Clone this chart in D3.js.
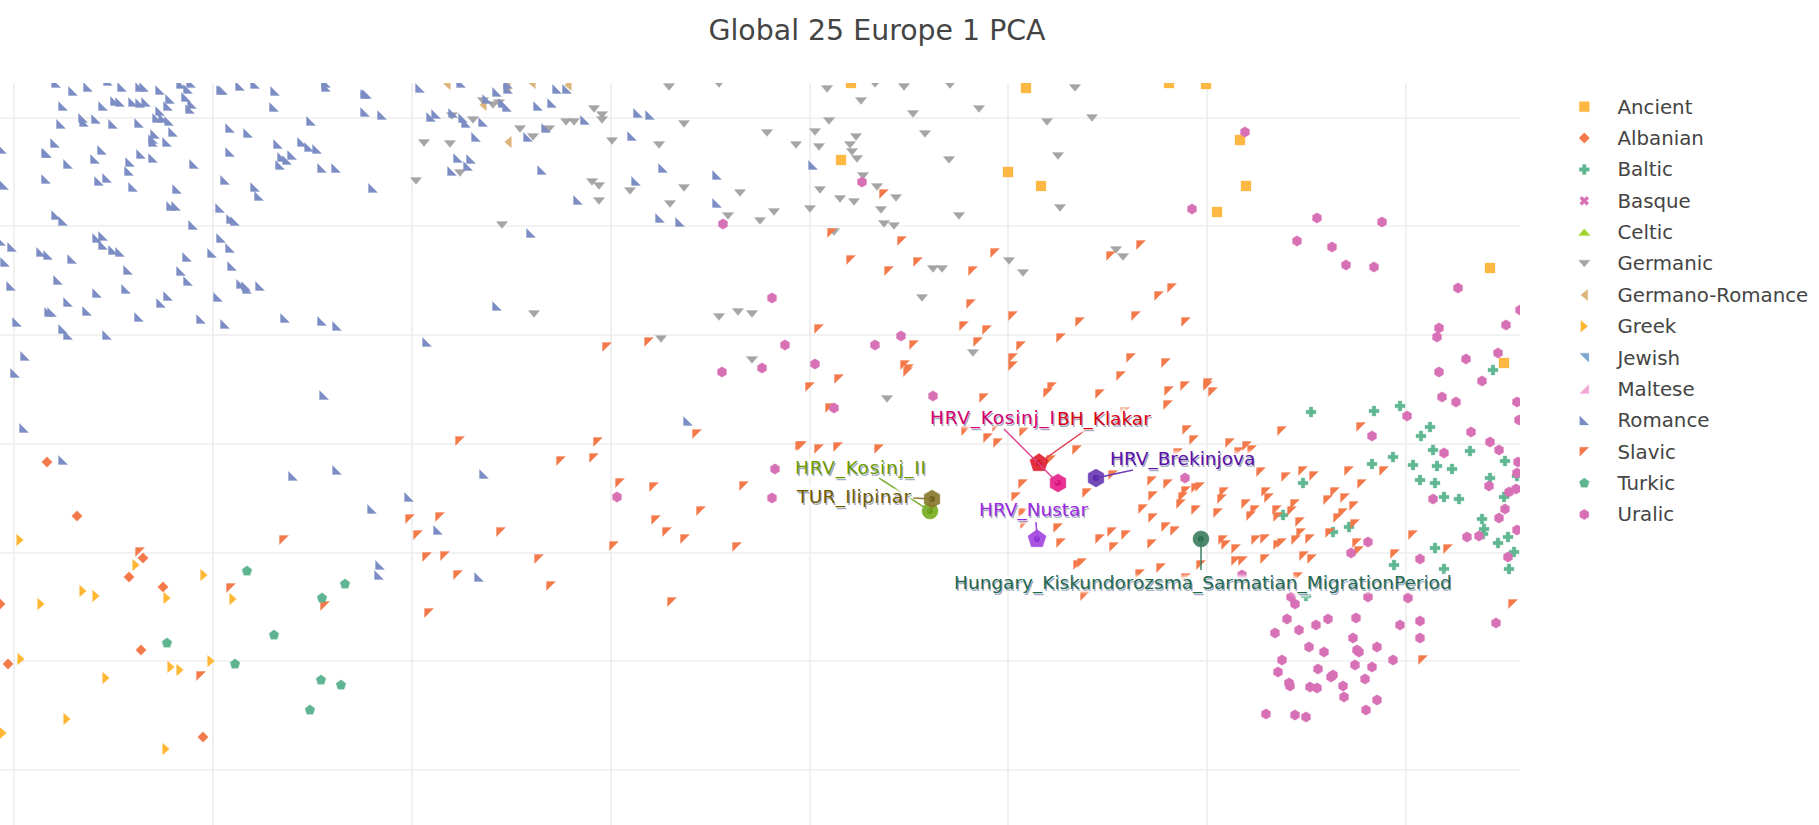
<!DOCTYPE html>
<html>
<head>
<meta charset="utf-8">
<title>Global 25 Europe 1 PCA</title>
<script src="https://cdn.jsdelivr.net/npm/d3@7"></script>
<style>
html,body{margin:0;padding:0;background:#fff;overflow:hidden}
svg{display:block}
text{font-family:"DejaVu Sans",sans-serif}
</style>
</head>
<body>
<svg id="chart" width="1819" height="825"></svg>
<script>
const titleText = "Global 25 Europe 1 PCA";
const xTicks = [0,199,398,597,796,994,1193,1392];
const yTicks = [0,109,217,326,435,544,652];

const ancient = [[837,687],[1012,682],[1155,687],[827,610],[994,598],[1027,584],[1192,686],[1226,630],[1232,584],[1203,558],[1476,502],[1490,407]];
const albanian = [[33,308],[63,254],[129,212],[115,193],[149,183],[-14,166],[127,120],[-6,106],[189,33]];
const baltic = [[1479,400],[1297,358],[1360,359],[1386,364],[1416,343],[1407,334],[1419,320],[1456,319],[1491,309],[1379,313],[1358,306],[1399,305],[1423,304],[1438,301],[1406,290],[1421,287],[1476,292],[1503,294],[1289,287],[1430,273],[1445,271],[1490,273],[1468,251],[1470,241],[1469,236],[1319,238],[1335,243],[1269,255],[1494,233],[1484,227],[1421,222],[1500,218],[1380,205],[1430,201],[1495,201],[1292,174]];
const basque = [];
const celtic = [];
const germanic = [[655,683],[705,686],[469,669],[479,665],[485,667],[438,654],[459,650],[580,661],[588,655],[588,650],[552,648],[560,648],[670,646],[506,641],[535,641],[519,633],[410,627],[436,626],[598,629],[645,625],[753,637],[782,625],[402,589],[446,597],[578,588],[585,584],[616,579],[670,582],[726,577],[585,569],[656,566],[714,554],[746,549],[760,558],[488,545],[520,456],[705,453],[724,458],[738,456],[647,431],[738,410],[813,681],[861,686],[890,683],[936,685],[847,669],[899,656],[965,661],[815,649],[801,638],[842,633],[911,636],[836,625],[805,623],[838,618],[843,611],[935,610],[849,594],[863,583],[806,580],[882,572],[826,571],[840,568],[796,561],[867,560],[945,554],[870,546],[880,544],[820,538],[1061,682],[1033,648],[1078,652],[1044,614],[1046,562],[1102,520],[1109,513],[995,509],[1009,497],[919,501],[928,501],[908,472],[959,417],[873,371]];
const germanoRomance = [[494,628],[469,665],[433,686],[554,685],[493,683],[518,687]];
const greek = [[6,230],[122,205],[190,195],[69,179],[82,174],[27,166],[153,172],[219,171],[7,111],[197,109],[157,103],[166,100],[92,92],[53,51],[-11,37],[152,21]];
const jewish = [];
const maltese = [];
const romance = [[42,687],[59,679],[74,683],[94,689],[108,683],[126,683],[130,683],[146,680],[167,686],[177,687],[174,681],[156,671],[172,673],[49,664],[89,664],[101,669],[106,668],[119,668],[126,667],[132,668],[154,664],[178,666],[176,661],[146,659],[143,652],[149,652],[155,649],[69,652],[70,648],[82,651],[47,646],[99,646],[125,647],[159,638],[141,636],[139,631],[139,628],[153,628],[41,627],[-12,621],[32,617],[33,617],[88,620],[127,616],[81,611],[116,608],[139,612],[54,606],[115,599],[180,606],[93,592],[85,589],[32,591],[-10,585],[119,583],[163,581],[157,564],[162,564],[42,555],[49,549],[179,545],[207,680],[209,680],[226,684],[241,686],[261,679],[312,687],[312,683],[351,676],[353,676],[260,663],[351,658],[368,655],[297,649],[216,642],[234,637],[264,626],[288,628],[295,623],[303,621],[216,618],[268,613],[273,610],[278,615],[266,605],[308,602],[322,602],[211,590],[241,583],[245,574],[359,582],[206,562],[217,551],[221,549],[83,532],[89,534],[89,525],[99,520],[106,518],[207,532],[216,522],[198,517],[-2,523],[-13,529],[27,518],[34,515],[58,511],[-9,508],[173,513],[114,500],[167,499],[218,504],[44,490],[-3,484],[174,489],[227,486],[232,484],[233,481],[246,484],[83,477],[112,481],[154,474],[204,473],[54,468],[147,467],[35,458],[38,458],[73,459],[125,453],[187,451],[211,446],[271,452],[308,449],[323,444],[3,448],[49,441],[54,435],[93,435],[11,414],[1,397],[10,342],[310,375],[49,310],[279,294],[323,300],[358,261],[366,205],[365,195],[406,682],[447,687],[483,678],[494,681],[494,686],[543,681],[553,681],[473,671],[489,667],[493,663],[524,664],[538,667],[417,653],[422,656],[439,657],[449,652],[452,647],[469,648],[462,633],[532,642],[514,633],[571,650],[624,657],[636,655],[618,634],[444,612],[457,611],[454,604],[438,599],[528,600],[649,602],[622,589],[703,595],[564,570],[646,552],[666,548],[703,567],[517,537],[483,464],[413,428],[799,605],[470,296],[395,273],[424,240],[465,193],[674,349]];
const slavic = [[593,423],[635,428],[870,576],[818,537],[888,529],[981,517],[837,510],[904,508],[875,499],[959,499],[1097,514],[1127,525],[1158,482],[1145,474],[957,466],[999,454],[1066,448],[1122,454],[1172,448],[950,444],[973,440],[805,441],[1047,432],[964,428],[900,425],[1007,424],[999,412],[1117,412],[1152,407],[891,405],[999,404],[895,401],[270,230],[126,218],[217,182],[311,164],[187,94],[446,329],[584,328],[683,336],[786,324],[547,309],[580,312],[606,287],[640,283],[730,284],[396,251],[426,253],[404,235],[487,238],[642,250],[687,259],[653,238],[671,231],[600,224],[723,223],[413,213],[431,214],[525,211],[444,195],[537,184],[415,157],[658,168],[796,383],[825,391],[894,398],[816,362],[970,372],[974,332],[984,327],[1010,338],[788,324],[805,321],[824,323],[865,321],[1063,320],[1037,310],[1009,286],[1002,273],[1009,257],[1011,246],[1044,242],[1047,227],[1064,205],[1034,377],[1038,383],[952,339],[983,343],[1107,394],[1086,376],[1155,379],[1171,384],[1194,387],[1194,384],[1199,378],[1154,365],[1111,358],[1173,340],[1180,330],[1216,327],[1233,324],[1238,320],[1225,318],[1164,317],[1099,295],[1138,289],[1154,286],[1139,274],[1073,277],[1172,279],[1182,282],[1186,283],[1169,273],[1167,266],[1129,261],[1139,252],[1182,260],[1204,257],[1210,278],[1208,271],[1247,298],[1252,278],[1255,272],[1232,266],[1241,260],[1237,254],[1263,260],[1264,253],[1152,243],[1161,239],[1112,235],[1098,238],[1086,231],[1100,223],[1138,226],[1209,230],[1212,225],[1222,221],[1242,230],[1251,231],[1264,225],[1251,211],[1222,209],[1229,209],[1187,205],[1147,202],[1068,207],[1071,174],[1126,196],[1172,192],[1268,339],[1347,343],[1289,299],[1272,293],[1300,294],[1335,299],[1370,299],[1348,286],[1321,278],[1314,270],[1331,272],[1281,266],[1278,259],[1340,264],[1329,257],[1324,252],[1286,248],[1341,246],[1287,237],[1282,230],[1296,231],[1316,237],[1343,227],[1345,219],[1290,214],[1298,211],[1381,216],[1399,235],[1434,221],[1268,227],[1499,166],[1284,193],[1409,110]];
const turkic = [[233,199],[331,186],[308,172],[260,135],[153,127],[221,106],[307,90],[327,85],[296,60]];
const uralic = [[709,546],[758,472],[771,425],[748,402],[708,398],[848,588],[1178,561],[887,434],[861,425],[801,406],[1231,638],[1303,552],[1368,548],[1283,529],[1318,523],[1332,505],[1360,503],[1444,482],[1506,460],[1492,445],[1425,442],[1423,433],[1452,411],[1484,417],[1425,398],[603,273],[761,301],[758,272],[820,362],[919,374],[1171,292],[1228,195],[1468,389],[1428,373],[1442,368],[1503,368],[1505,350],[1393,354],[1457,338],[1358,334],[1476,328],[1485,320],[1430,317],[1504,308],[1503,297],[1475,284],[1495,278],[1502,281],[1419,271],[1491,261],[1485,252],[1503,240],[1465,234],[1453,233],[1354,228],[1337,217],[1406,211],[1494,213],[1394,172],[1354,173],[1277,173],[1281,166],[1273,151],[1314,151],[1342,152],[1302,145],[1285,140],[1261,137],[1386,145],[1339,132],[1295,123],[1310,118],[1343,120],[1345,118],[1363,123],[1268,110],[1379,110],[1341,105],[1358,103],[1304,101],[1264,98],[1319,95],[1317,93],[1351,91],[1275,87],[1276,84],[1329,84],[1296,83],[1303,82],[1330,73],[1363,70],[1352,60],[1252,56],[1281,55],[1292,53],[1406,149],[1406,132],[1482,147]];

const seriesNames = ["Ancient","Albanian","Baltic","Basque","Celtic","Germanic","Germano-Romance","Greek","Jewish","Maltese","Romance","Slavic","Turkic","Uralic"];
const seriesValues = [ancient,albanian,baltic,basque,celtic,germanic,germanoRomance,greek,jewish,maltese,romance,slavic,turkic,uralic];

const highlightNames = ["HRV_Kosinj_II","TUR_Ilipinar","HRV_Nustar","HRV_Brekinjova","Hungary_Kiskundorozsma_Sarmatian_MigrationPeriod","BH_Klakar","HRV_Kosinj_I"];
const highlightValues = [[916,259],[918,271],[1023,231],[1082,292],[1187,231],[1025,307],[1044,287]];

/* ---- presentation ---- */
const seriesColors = ["#fdb843","#f4794a","#5fb792","#d870b5","#a1d32f","#a5a5a5","#dcb57c","#ffb733","#7ba4cf","#f2a7d6","#7b8dc4","#f4794a","#5fb592","#d870b5"];
const seriesShapes = ["square","diamond","plus","x","up","down","left","right","ne","se","sw","nw","pentagon","hexagon"];
const highlightStyle = [
 {shape:"circle",r:8,fill:"#7aae22",dot:"#6a9f18",text:"#6b9a00",line:"#7fb03c",dx:-135,dy:-43,lx:-51,ly:-33,w:131},
 {shape:"hexagon",r:9,fill:"#8a7a30",dot:"#75641c",text:"#6e5a00",line:"#8a7a30",dx:-135,dy:-2,lx:-19,ly:-1,w:114},
 {shape:"pentagon",r:9.5,fill:"#a347e0",dot:"#9333d6",text:"#9a2be2",line:"#a347e0",dx:-58,dy:-29,lx:-1,ly:-17},
 {shape:"hexagon",r:9,fill:"#6a3ab5",dot:"#5a28a8",text:"#5a10a8",line:"#6a3ab5",dx:14,dy:-19,lx:37,ly:-8},
 {shape:"circle",r:8,fill:"#3f7f62",dot:"#2f7253",text:"#1f6a4f",line:"#3f7f62",dx:-247,dy:44,lx:0,ly:31},
 {shape:"pentagon",r:9.5,fill:"#e0202e",dot:"#d01525",text:"#d80012",line:"#e0354a",dx:18,dy:-44,lx:48,ly:-34},
 {shape:"hexagon",r:9,fill:"#e6208a",dot:"#d8127e",text:"#d6006e",line:"#dd3f8f",dx:-128,dy:-65,lx:-54,ly:-54,w:125}
];

function polyType(pts){ return {draw(ctx,size){ const r=Math.sqrt(size); pts.forEach((p,i)=>{ if(i) ctx.lineTo(p[0]*r,p[1]*r); else ctx.moveTo(p[0]*r,p[1]*r);}); ctx.closePath(); }}; }
function ngon(n,rot){ return d3.range(n).map(i=>{const a=rot+i*2*Math.PI/n; return [Math.cos(a),Math.sin(a)];}); }
const t=0.36;
const shapeTypes = {
 square: polyType([[-1,-1],[1,-1],[1,1],[-1,1]]),
 diamond: polyType([[0,-1.05],[1.05,0],[0,1.05],[-1.05,0]]),
 plus: polyType([[-t,-1],[t,-1],[t,-t],[1,-t],[1,t],[t,t],[t,1],[-t,1],[-t,t],[-1,t],[-1,-t],[-t,-t]]),
 x: polyType([[-.5,-1],[0,-.5],[.5,-1],[1,-.5],[.5,0],[1,.5],[.5,1],[0,.5],[-.5,1],[-1,.5],[-.5,0],[-1,-.5]]),
 up: polyType([[0,-.68],[1.15,.68],[-1.15,.68]]),
 down: polyType([[-1.15,-.68],[1.15,-.68],[0,.68]]),
 left: polyType([[.68,-1.15],[.68,1.15],[-.68,0]]),
 right: polyType([[-.68,-1.15],[-.68,1.15],[.68,0]]),
 ne: polyType([[-1,-1],[1,-1],[1,1]]),
 se: polyType([[1,-1],[1,1],[-1,1]]),
 sw: polyType([[-1,-1],[1,1],[-1,1]]),
 nw: polyType([[-1,-1],[1,-1],[-1,1]]),
 pentagon: polyType(ngon(5,-Math.PI/2)),
 hexagon: polyType(ngon(6,-Math.PI/2)),
 circle: d3.symbolCircle
};
const shapeSize = {square:5,diamond:5,plus:5,x:4.6,up:5,down:5,left:5,right:5,ne:4.5,se:4.5,sw:4.5,nw:4.5,pentagon:5.2,hexagon:5.2,circle:5};
const symbolPath = (shape,r)=>{ const gen=d3.symbol().type(shapeTypes[shape]);
  return shape==="circle" ? gen.size(Math.PI*r*r)() : gen.size(r*r)(); };

const W=1819,H=825, plot={l:0,r:1520,t:83,b:825};
const svg=d3.select("#chart");
const x=d3.scaleLinear().domain([-14,1506]).range([plot.l,plot.r]);
const y=d3.scaleLinear().domain([-55,687]).range([plot.b,plot.t]);

svg.append("defs").append("clipPath").attr("id","plotclip").append("rect")
  .attr("x",plot.l).attr("y",plot.t).attr("width",plot.r-plot.l).attr("height",plot.b-plot.t);
const blur=svg.select("defs").append("filter").attr("id","halo").attr("x","-10%").attr("y","-60%").attr("width","120%").attr("height","220%");
blur.append("feGaussianBlur").attr("stdDeviation",1.8);
const soft=svg.select("defs").append("filter").attr("id","soft").attr("x","-10%").attr("y","-50%").attr("width","120%").attr("height","200%");
soft.append("feGaussianBlur").attr("stdDeviation",0.5);

svg.append("text").attr("x",877).attr("y",40).attr("text-anchor","middle")
  .attr("font-size",28.4).attr("fill","#444").text(titleText);

const grid=svg.append("g").attr("stroke","#eee").attr("stroke-width",1.7);
grid.selectAll("line.gx").data(xTicks).join("line").attr("class","gx")
  .attr("x1",d=>x(d)).attr("x2",d=>x(d)).attr("y1",plot.t).attr("y2",plot.b);
grid.selectAll("line.gy").data(yTicks).join("line").attr("class","gy")
  .attr("y1",d=>y(d)).attr("y2",d=>y(d)).attr("x1",plot.l).attr("x2",plot.r);

const marks=svg.append("g").attr("clip-path","url(#plotclip)");
seriesNames.forEach((name,i)=>{
  const shape=seriesShapes[i], d=symbolPath(shape,shapeSize[shape]);
  marks.append("g").attr("class","series").selectAll("path").data(seriesValues[i]).join("path")
    .attr("d",d).attr("transform",p=>`translate(${x(p[0])},${y(p[1])})`)
    .attr("fill",seriesColors[i]).attr("stroke",seriesColors[i]).attr("stroke-opacity",.3).attr("stroke-width",1);
});

const anno=svg.append("g");
const textFont=18.5;
highlightNames.forEach((name,i)=>{
  const s=highlightStyle[i], px=x(highlightValues[i][0]), py=y(highlightValues[i][1]);
  anno.append("path").attr("d",symbolPath(s.shape,s.r)).attr("transform",`translate(${px},${py})`)
    .attr("fill",s.fill).attr("fill-opacity",.92).attr("stroke",s.fill).attr("stroke-opacity",.5);
  anno.append("circle").attr("cx",px).attr("cy",py).attr("r",3).attr("fill",s.dot);
  anno.append("line").attr("x1",px).attr("y1",py).attr("x2",px+s.lx).attr("y2",py+s.ly)
    .attr("stroke",s.line).attr("stroke-width",1.5);
});
highlightNames.forEach((name,i)=>{
  const s=highlightStyle[i], px=x(highlightValues[i][0]), py=y(highlightValues[i][1]);
  const lab=()=>{ const e=anno.append("text").attr("x",px+s.dx).attr("y",py+s.dy).attr("dy","0.35em")
     .attr("font-size",textFont).text(name);
     if(s.w) e.attr("textLength",s.w).attr("lengthAdjust","spacing");
     return e; };
  lab().attr("fill","#fff").attr("stroke","#fff").attr("stroke-width",7).attr("stroke-linejoin","round")
     .attr("stroke-opacity",.85).attr("filter","url(#halo)");
  lab().attr("transform","translate(1.2,1.2)").attr("fill","#5a6a92").attr("fill-opacity",.55).attr("filter","url(#soft)");
  lab().attr("fill",s.text);
});

const legend=svg.append("g");
const rowY=d3.scaleLinear().domain([0,13]).range([106.7,514.5]);
seriesNames.forEach((name,i)=>{
  const g=legend.append("g").attr("transform",`translate(0,${rowY(i)})`);
  const shape=seriesShapes[i];
  g.append("path").attr("d",symbolPath(shape,shapeSize[shape])).attr("transform","translate(1584.3,0)")
    .attr("fill",seriesColors[i]).attr("stroke",seriesColors[i]).attr("stroke-opacity",.3);
  g.append("text").attr("x",1617.5).attr("y",0).attr("dy","0.35em").attr("font-size",19.8).attr("fill","#444").text(name);
});
</script>
</body>
</html>
